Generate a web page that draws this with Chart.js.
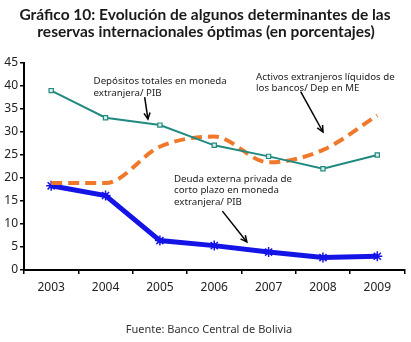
<!DOCTYPE html>
<html>
<head>
<meta charset="utf-8">
<script src="https://cdn.jsdelivr.net/npm/chart.js@4.4.0/dist/chart.umd.min.js"></script>
<style>
  html, body { margin: 0; padding: 0; background: #fff; }
  #wrap { width: 411px; height: 342px; }
</style>
</head>
<body>
<div id="wrap"><canvas id="reservasChart" width="411" height="342"></canvas></div>
<script>
const years = ['2003', '2004', '2005', '2006', '2007', '2008', '2009'];
const depositosPIB = [39.0, 33.1, 31.5, 27.1, 24.7, 22.0, 25.0];
const activosLiquidos = [18.9, 18.9, 26.8, 29.0, 23.4, 26.1, 33.6];
const deudaCortoPlazo = [18.3, 16.2, 6.4, 5.3, 3.9, 2.7, 3.0];
const yTicks = [0, 5, 10, 15, 20, 25, 30, 35, 40, 45];

const titleLines = [
    'Gráfico 10: Evolución de algunos determinantes de las',
    'reservas internacionales óptimas (en porcentajes)'
];
const sourceText = 'Fuente: Banco Central de Bolivia';

// notes with arrows, placed in data units (category index, percent)
const notes = [
    { lines: ['Depósitos totales en moneda', 'extranjera/ PIB'], x: 0.78, y: 41.0,
      from: [1.72, 37.6], to: [1.78, 32.8] },
    { lines: ['Activos extranjeros líquidos de', 'los bancos/ Dep en ME'], x: 3.77, y: 42.0,
      from: [4.59, 38.8], to: [5.0, 30.0] },
    { lines: ['Deuda externa privada de', 'corto plazo en moneda', 'extranjera/ PIB'], x: 2.26, y: 19.8,
      from: [3.15, 12.8], to: [3.6, 6.1] }
];

document.addEventListener('DOMContentLoaded', () => {
    const ctx = document.getElementById('reservasChart').getContext('2d');

    const textPlugin = {
        id: 'textPlugin',
        afterDraw(chart) {
            const c = chart.ctx;
            const xs = chart.scales.x, ys = chart.scales.y;
            c.save();
            // title
            c.fillStyle = '#1a1a1a';
            c.textAlign = 'center';
            c.textBaseline = 'middle';
            c.font = 'bold 15.5px Lato, "DejaVu Sans", sans-serif';
            c.fillText(titleLines[0], 205, 15);
            c.fillText(titleLines[1], 206, 32);
            // source
            c.font = '11px "Noto Sans", sans-serif';
            c.fillStyle = '#333';
            c.fillText(sourceText, 209, 330);
            // notes
            c.textAlign = 'left';
            c.font = '9.7px "Noto Sans", sans-serif';
            c.fillStyle = '#222';
            notes.forEach(n => {
                const px = xs.getPixelForValue(n.x);
                const py = ys.getPixelForValue(n.y);
                n.lines.forEach((t, i) => c.fillText(t, px, py + i * 11.5));
                const x1 = xs.getPixelForValue(n.from[0]), y1 = ys.getPixelForValue(n.from[1]);
                const x2 = xs.getPixelForValue(n.to[0]), y2 = ys.getPixelForValue(n.to[1]);
                c.strokeStyle = '#000';
                c.lineWidth = 1.5;
                c.beginPath();
                c.moveTo(x1, y1);
                c.lineTo(x2, y2);
                c.stroke();
                const a = Math.atan2(y2 - y1, x2 - x1);
                c.beginPath();
                c.moveTo(x2 - 7 * Math.cos(a - 0.45), y2 - 7 * Math.sin(a - 0.45));
                c.lineTo(x2, y2);
                c.lineTo(x2 - 7 * Math.cos(a + 0.45), y2 - 7 * Math.sin(a + 0.45));
                c.stroke();
            });
            c.restore();
        }
    };

    new Chart(ctx, {
        type: 'line',
        data: {
            labels: years,
            datasets: [{
                label: 'Depósitos totales en moneda extranjera/PIB',
                data: depositosPIB,
                borderColor: '#208a80',
                backgroundColor: '#d8efe9',
                borderWidth: 2,
                pointStyle: 'rect',
                pointRadius: 3,
                pointBorderWidth: 1.2,
                tension: 0
            }, {
                label: 'Activos extranjeros líquidos de los bancos/Dep en ME',
                data: activosLiquidos,
                borderColor: '#f0782a',
                borderWidth: 4,
                borderDash: [11, 6],
                pointRadius: 0,
                cubicInterpolationMode: 'monotone'
            }, {
                label: 'Deuda externa privada de corto plazo en moneda extranjera/PIB',
                data: deudaCortoPlazo,
                borderColor: '#1414e6',
                backgroundColor: '#1414e6',
                borderWidth: 5,
                pointStyle: 'star',
                pointRadius: 5,
                pointBorderWidth: 1.5,
                tension: 0
            }]
        },
        options: {
            responsive: false,
            animation: false,
            layout: { padding: { top: 63, right: 4, bottom: 42, left: 0 } },
            plugins: {
                legend: { display: false },
                tooltip: { enabled: false }
            },
            scales: {
                x: {
                    offset: true,
                    grid: { offset: true, drawOnChartArea: false, tickLength: 4, color: '#000', lineWidth: 1.5 },
                    border: { display: true, color: '#000', width: 2 },
                    ticks: { color: '#222', font: { size: 12, family: '"Noto Sans", sans-serif' }, padding: 6, maxRotation: 0 },
                    afterFit(scale) { scale.height = 30; }
                },
                y: {
                    min: 0,
                    max: 45,
                    afterBuildTicks(scale) { scale.ticks = yTicks.map(v => ({ value: v })); },
                    grid: { drawOnChartArea: false, tickLength: 4, color: '#000', lineWidth: 1.5 },
                    border: { display: true, color: '#000', width: 2 },
                    ticks: { color: '#222', font: { size: 12, family: '"Noto Sans", sans-serif' }, padding: 2 },
                    afterFit(scale) { scale.width = 24; }
                }
            }
        },
        plugins: [textPlugin]
    });
});
</script>
</body>
</html>
